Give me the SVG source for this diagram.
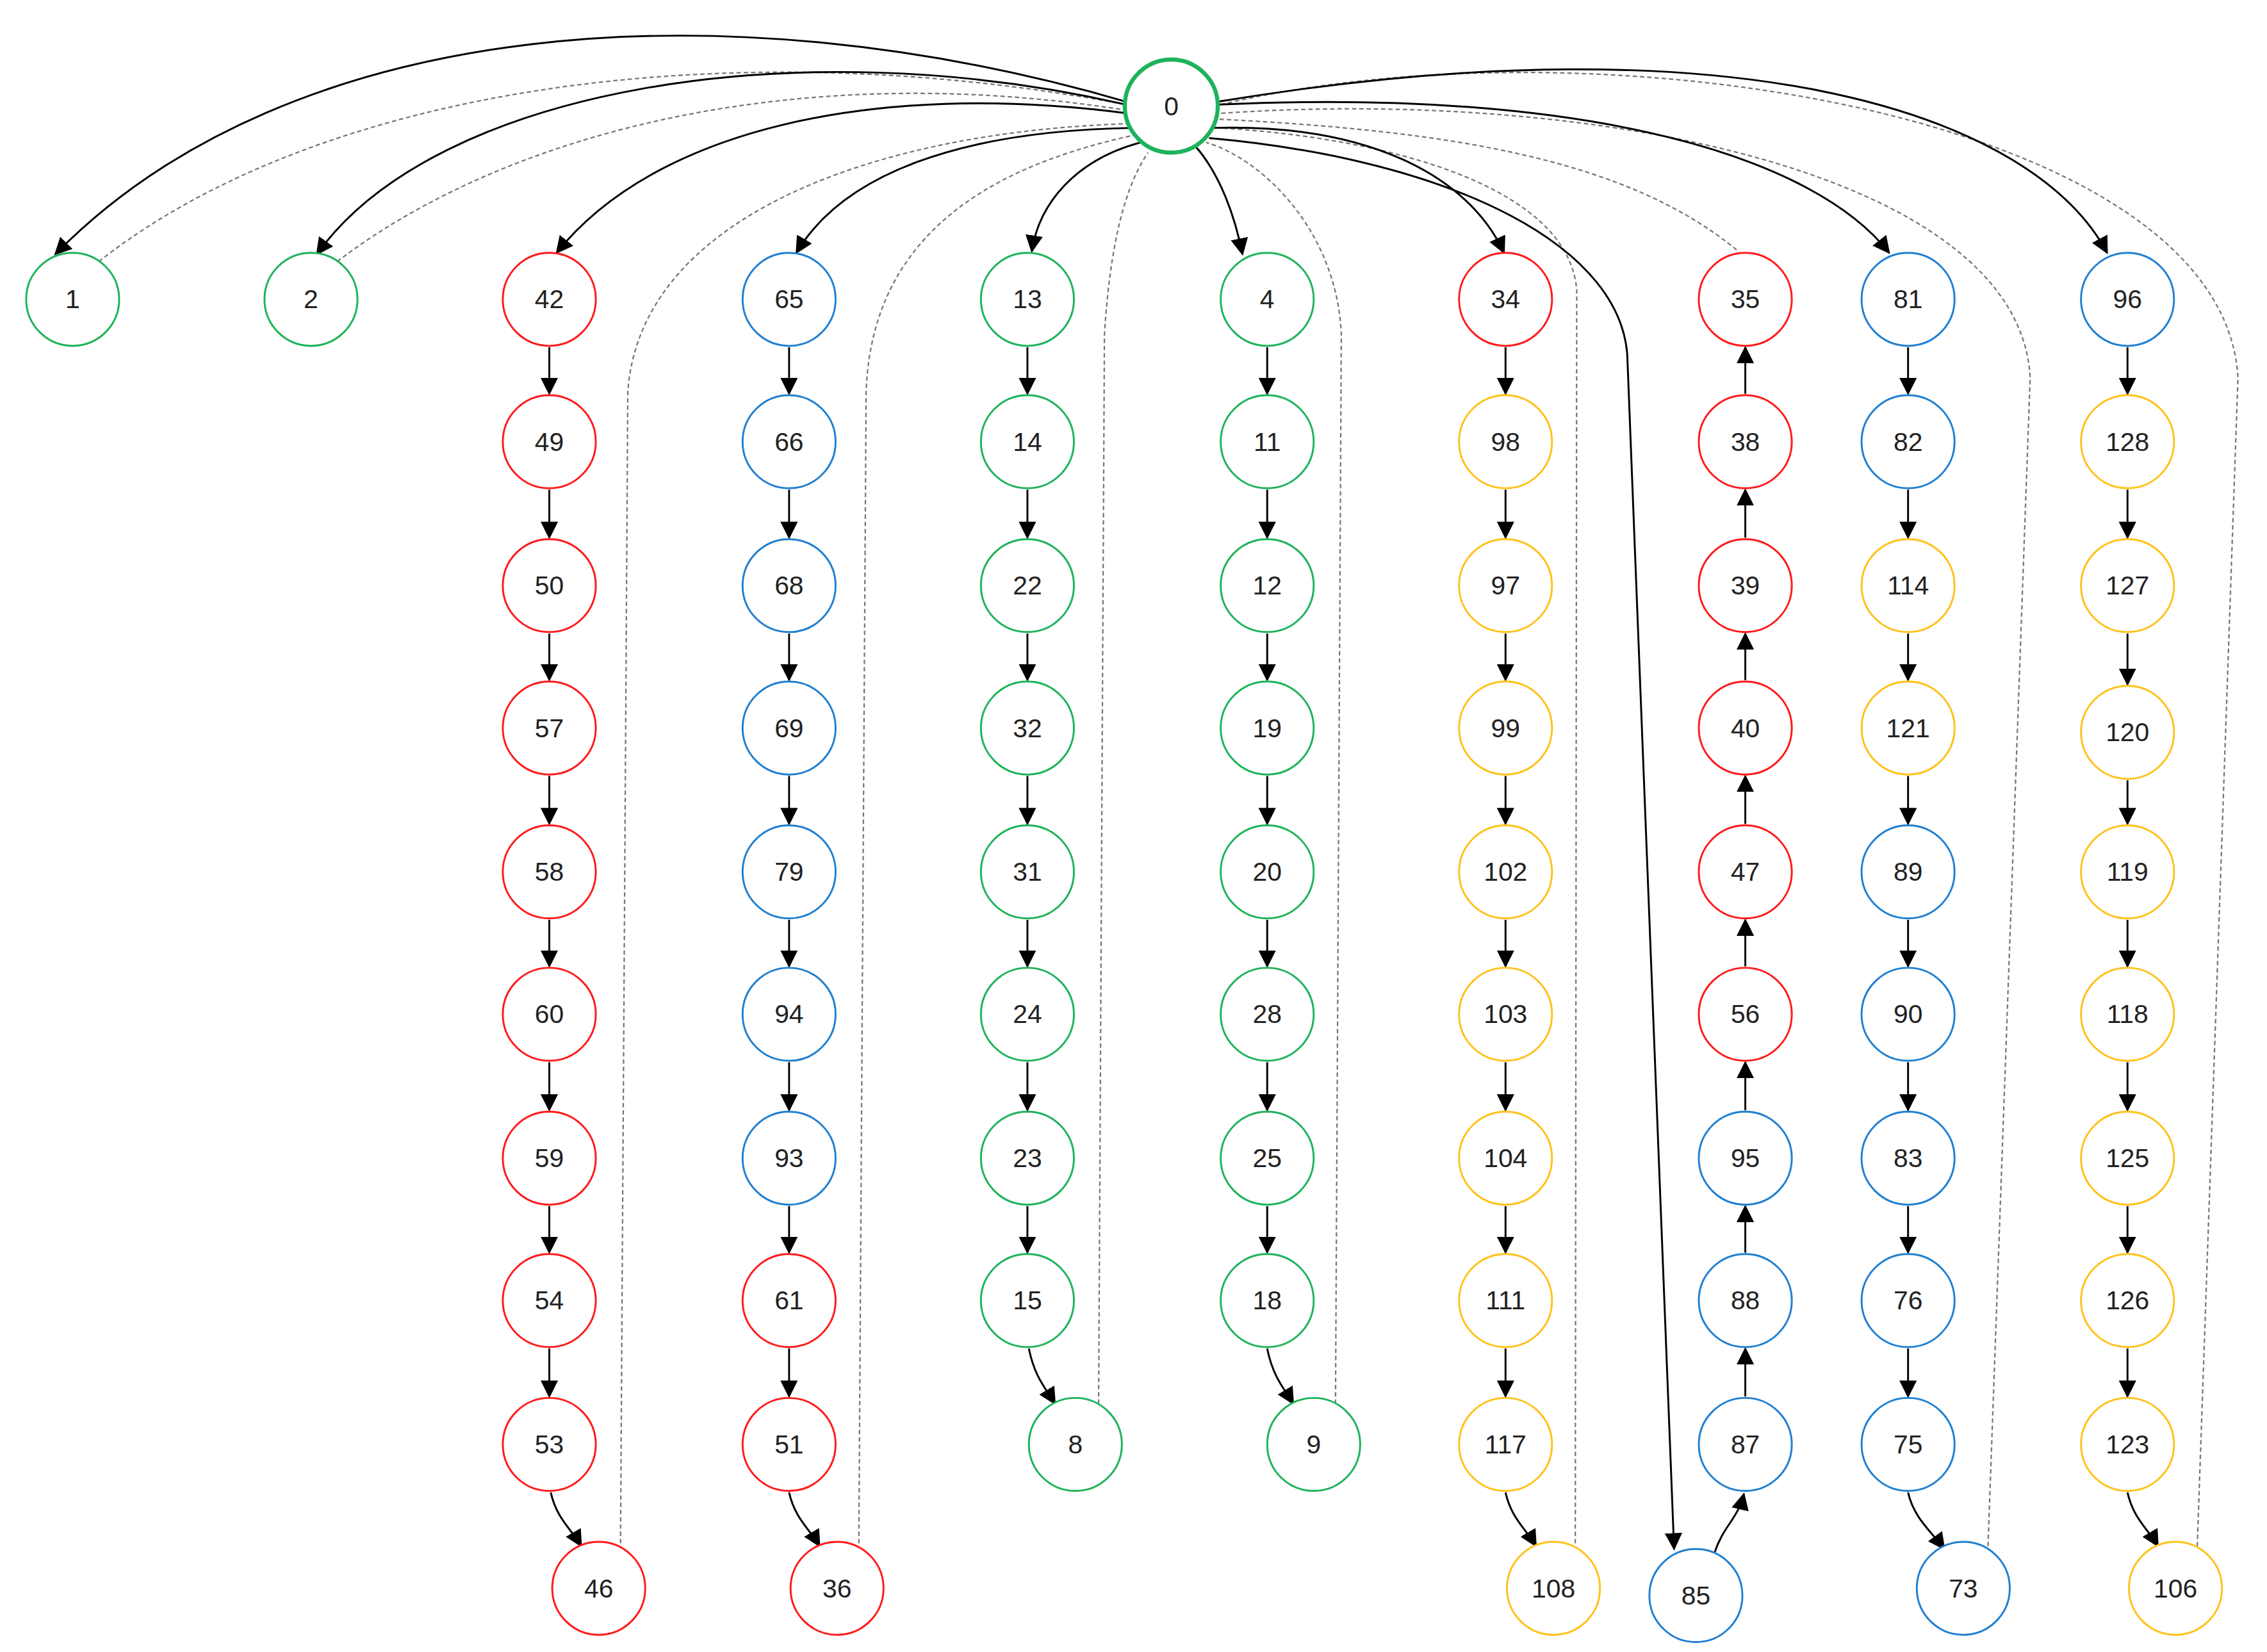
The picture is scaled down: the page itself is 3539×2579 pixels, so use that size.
<svg xmlns="http://www.w3.org/2000/svg" width="3539" height="2579" viewBox="0 0 3539 2579">
<style>
.n{fill:#fff;stroke-width:1.3}
.g{stroke:#1db35a}.r{stroke:#ff1a1a}.b{stroke:#1f7fd1}.y{stroke:#ffc21a}
.t{font-family:"Liberation Sans",Arial,sans-serif;font-size:18px;text-anchor:middle;dominant-baseline:central;fill:#222}
.s{fill:none;stroke:#000;stroke-width:1.3;marker-end:url(#a)}
.d{fill:none;stroke:#777;stroke-width:1;stroke-dasharray:3 2}
</style>
<defs><marker id="a" markerUnits="userSpaceOnUse" markerWidth="12" markerHeight="12" refX="11" refY="6" orient="auto"><path d="M0,0 L12,6 L0,12 Z" fill="#000"/></marker></defs>
<rect width="3539" height="2579" fill="#fff"/>
<g transform="scale(2.2686)">
<g id="edges">
<path class="d" d="M68 180 C220 60,500 20,775 72"/>
<path class="d" d="M232 180 C350 90,550 40,776 76"/>
<path class="d" d="M427 1062 L432 270 C440 150,600 90,780 85"/>
<path class="d" d="M591 1062 L596 270 C600 150,700 110,785 92"/>
<path class="d" d="M756 966 L760 230 C765 150,780 120,790 105"/>
<path class="d" d="M919 966 L923 230 C920 160,870 110,830 98"/>
<path class="d" d="M1084 1062 L1085 200 C1080 130,960 95,838 88"/>
<path class="d" d="M1195 172 C1120 110,1000 90,838 82"/>
<path class="d" d="M1368 1064 L1397 260 C1390 120,1100 60,840 78"/>
<path class="d" d="M1512 1064 L1540 260 C1530 80,1100 10,840 72"/>
<path class="s" d="M775 70 C500 -10,200 10,38 175"/>
<path class="s" d="M775 72 C550 20,300 60,218 175"/>
<path class="s" d="M776 78 C600 55,450 90,383 174"/>
<path class="s" d="M780 88 C660 90,580 120,548 174"/>
<path class="s" d="M785 98 C740 110,715 140,710 173"/>
<path class="s" d="M822 100 C840 120,850 150,855 175"/>
<path class="s" d="M835 88 C940 85,1010 120,1035 174"/>
<path class="s" d="M832 95 C1000 110,1120 170,1120 250 L1152 1066"/>
<path class="s" d="M838 72 C1100 60,1250 110,1300 174"/>
<path class="s" d="M838 70 C1200 10,1400 80,1450 174"/>
<path class="s" d="M379 1027 C383 1045,393 1052,400 1064"/>
<path class="s" d="M543 1027 C547 1045,557 1052,564 1064"/>
<path class="s" d="M708 928 C712 948,720 956,726 966"/>
<path class="s" d="M872 928 C876 948,884 956,890 966"/>
<path class="s" d="M1036 1027 C1040 1045,1050 1052,1057 1064"/>
<path class="s" d="M1313 1027 C1317 1045,1330 1055,1338 1066"/>
<path class="s" d="M1464 1027 C1468 1045,1478 1052,1485 1064"/>
<path class="s" d="M1180 1068 C1186 1050,1196 1045,1200 1028"/>
<path class="s" d="M378 239V271"/><path class="s" d="M378 337V370"/><path class="s" d="M378 436V468"/><path class="s" d="M378 534V567"/><path class="s" d="M378 633V665"/><path class="s" d="M378 731V764"/><path class="s" d="M378 830V862"/><path class="s" d="M378 928V961"/>
<path class="s" d="M543 239V271"/><path class="s" d="M543 337V370"/><path class="s" d="M543 436V468"/><path class="s" d="M543 534V567"/><path class="s" d="M543 633V665"/><path class="s" d="M543 731V764"/><path class="s" d="M543 830V862"/><path class="s" d="M543 928V961"/>
<path class="s" d="M707 239V271"/><path class="s" d="M707 337V370"/><path class="s" d="M707 436V468"/><path class="s" d="M707 534V567"/><path class="s" d="M707 633V665"/><path class="s" d="M707 731V764"/><path class="s" d="M707 830V862"/>
<path class="s" d="M872 239V271"/><path class="s" d="M872 337V370"/><path class="s" d="M872 436V468"/><path class="s" d="M872 534V567"/><path class="s" d="M872 633V665"/><path class="s" d="M872 731V764"/><path class="s" d="M872 830V862"/>
<path class="s" d="M1036 239V271"/><path class="s" d="M1036 337V370"/><path class="s" d="M1036 436V468"/><path class="s" d="M1036 534V567"/><path class="s" d="M1036 633V665"/><path class="s" d="M1036 731V764"/><path class="s" d="M1036 830V862"/><path class="s" d="M1036 928V961"/>
<path class="s" d="M1201 961V928"/><path class="s" d="M1201 862V830"/><path class="s" d="M1201 764V731"/><path class="s" d="M1201 665V633"/><path class="s" d="M1201 567V534"/><path class="s" d="M1201 468V436"/><path class="s" d="M1201 370V337"/><path class="s" d="M1201 271V239"/>
<path class="s" d="M1313 239V271"/><path class="s" d="M1313 337V370"/><path class="s" d="M1313 436V468"/><path class="s" d="M1313 534V567"/><path class="s" d="M1313 633V665"/><path class="s" d="M1313 731V764"/><path class="s" d="M1313 830V862"/><path class="s" d="M1313 928V961"/>
<path class="s" d="M1464 239V271"/><path class="s" d="M1464 337V370"/><path class="s" d="M1464 436V471"/><path class="s" d="M1464 537V567"/><path class="s" d="M1464 633V665"/><path class="s" d="M1464 731V764"/><path class="s" d="M1464 830V862"/><path class="s" d="M1464 928V961"/>
</g>
<g id="n0"><circle cx="806" cy="73" r="32" fill="#fff" stroke="#1db35a" stroke-width="2.8"/><text class="t" x="806" y="73">0</text></g>
<g id="n1"><circle class="n g" cx="50" cy="206" r="32"/><text class="t" x="50" y="206">1</text></g>
<g id="n2"><circle class="n g" cx="214" cy="206" r="32"/><text class="t" x="214" y="206">2</text></g>
<g id="n42"><circle class="n r" cx="378" cy="206" r="32"/><text class="t" x="378" y="206">42</text></g>
<g id="n49"><circle class="n r" cx="378" cy="304" r="32"/><text class="t" x="378" y="304">49</text></g>
<g id="n50"><circle class="n r" cx="378" cy="403" r="32"/><text class="t" x="378" y="403">50</text></g>
<g id="n57"><circle class="n r" cx="378" cy="501" r="32"/><text class="t" x="378" y="501">57</text></g>
<g id="n58"><circle class="n r" cx="378" cy="600" r="32"/><text class="t" x="378" y="600">58</text></g>
<g id="n60"><circle class="n r" cx="378" cy="698" r="32"/><text class="t" x="378" y="698">60</text></g>
<g id="n59"><circle class="n r" cx="378" cy="797" r="32"/><text class="t" x="378" y="797">59</text></g>
<g id="n54"><circle class="n r" cx="378" cy="895" r="32"/><text class="t" x="378" y="895">54</text></g>
<g id="n53"><circle class="n r" cx="378" cy="994" r="32"/><text class="t" x="378" y="994">53</text></g>
<g id="n46"><circle class="n r" cx="412" cy="1093" r="32"/><text class="t" x="412" y="1093">46</text></g>
<g id="n65"><circle class="n b" cx="543" cy="206" r="32"/><text class="t" x="543" y="206">65</text></g>
<g id="n66"><circle class="n b" cx="543" cy="304" r="32"/><text class="t" x="543" y="304">66</text></g>
<g id="n68"><circle class="n b" cx="543" cy="403" r="32"/><text class="t" x="543" y="403">68</text></g>
<g id="n69"><circle class="n b" cx="543" cy="501" r="32"/><text class="t" x="543" y="501">69</text></g>
<g id="n79"><circle class="n b" cx="543" cy="600" r="32"/><text class="t" x="543" y="600">79</text></g>
<g id="n94"><circle class="n b" cx="543" cy="698" r="32"/><text class="t" x="543" y="698">94</text></g>
<g id="n93"><circle class="n b" cx="543" cy="797" r="32"/><text class="t" x="543" y="797">93</text></g>
<g id="n61"><circle class="n r" cx="543" cy="895" r="32"/><text class="t" x="543" y="895">61</text></g>
<g id="n51"><circle class="n r" cx="543" cy="994" r="32"/><text class="t" x="543" y="994">51</text></g>
<g id="n36"><circle class="n r" cx="576" cy="1093" r="32"/><text class="t" x="576" y="1093">36</text></g>
<g id="n13"><circle class="n g" cx="707" cy="206" r="32"/><text class="t" x="707" y="206">13</text></g>
<g id="n14"><circle class="n g" cx="707" cy="304" r="32"/><text class="t" x="707" y="304">14</text></g>
<g id="n22"><circle class="n g" cx="707" cy="403" r="32"/><text class="t" x="707" y="403">22</text></g>
<g id="n32"><circle class="n g" cx="707" cy="501" r="32"/><text class="t" x="707" y="501">32</text></g>
<g id="n31"><circle class="n g" cx="707" cy="600" r="32"/><text class="t" x="707" y="600">31</text></g>
<g id="n24"><circle class="n g" cx="707" cy="698" r="32"/><text class="t" x="707" y="698">24</text></g>
<g id="n23"><circle class="n g" cx="707" cy="797" r="32"/><text class="t" x="707" y="797">23</text></g>
<g id="n15"><circle class="n g" cx="707" cy="895" r="32"/><text class="t" x="707" y="895">15</text></g>
<g id="n8"><circle class="n g" cx="740" cy="994" r="32"/><text class="t" x="740" y="994">8</text></g>
<g id="n4"><circle class="n g" cx="872" cy="206" r="32"/><text class="t" x="872" y="206">4</text></g>
<g id="n11"><circle class="n g" cx="872" cy="304" r="32"/><text class="t" x="872" y="304">11</text></g>
<g id="n12"><circle class="n g" cx="872" cy="403" r="32"/><text class="t" x="872" y="403">12</text></g>
<g id="n19"><circle class="n g" cx="872" cy="501" r="32"/><text class="t" x="872" y="501">19</text></g>
<g id="n20"><circle class="n g" cx="872" cy="600" r="32"/><text class="t" x="872" y="600">20</text></g>
<g id="n28"><circle class="n g" cx="872" cy="698" r="32"/><text class="t" x="872" y="698">28</text></g>
<g id="n25"><circle class="n g" cx="872" cy="797" r="32"/><text class="t" x="872" y="797">25</text></g>
<g id="n18"><circle class="n g" cx="872" cy="895" r="32"/><text class="t" x="872" y="895">18</text></g>
<g id="n9"><circle class="n g" cx="904" cy="994" r="32"/><text class="t" x="904" y="994">9</text></g>
<g id="n34"><circle class="n r" cx="1036" cy="206" r="32"/><text class="t" x="1036" y="206">34</text></g>
<g id="n98"><circle class="n y" cx="1036" cy="304" r="32"/><text class="t" x="1036" y="304">98</text></g>
<g id="n97"><circle class="n y" cx="1036" cy="403" r="32"/><text class="t" x="1036" y="403">97</text></g>
<g id="n99"><circle class="n y" cx="1036" cy="501" r="32"/><text class="t" x="1036" y="501">99</text></g>
<g id="n102"><circle class="n y" cx="1036" cy="600" r="32"/><text class="t" x="1036" y="600">102</text></g>
<g id="n103"><circle class="n y" cx="1036" cy="698" r="32"/><text class="t" x="1036" y="698">103</text></g>
<g id="n104"><circle class="n y" cx="1036" cy="797" r="32"/><text class="t" x="1036" y="797">104</text></g>
<g id="n111"><circle class="n y" cx="1036" cy="895" r="32"/><text class="t" x="1036" y="895">111</text></g>
<g id="n117"><circle class="n y" cx="1036" cy="994" r="32"/><text class="t" x="1036" y="994">117</text></g>
<g id="n108"><circle class="n y" cx="1069" cy="1093" r="32"/><text class="t" x="1069" y="1093">108</text></g>
<g id="n35"><circle class="n r" cx="1201" cy="206" r="32"/><text class="t" x="1201" y="206">35</text></g>
<g id="n38"><circle class="n r" cx="1201" cy="304" r="32"/><text class="t" x="1201" y="304">38</text></g>
<g id="n39"><circle class="n r" cx="1201" cy="403" r="32"/><text class="t" x="1201" y="403">39</text></g>
<g id="n40"><circle class="n r" cx="1201" cy="501" r="32"/><text class="t" x="1201" y="501">40</text></g>
<g id="n47"><circle class="n r" cx="1201" cy="600" r="32"/><text class="t" x="1201" y="600">47</text></g>
<g id="n56"><circle class="n r" cx="1201" cy="698" r="32"/><text class="t" x="1201" y="698">56</text></g>
<g id="n95"><circle class="n b" cx="1201" cy="797" r="32"/><text class="t" x="1201" y="797">95</text></g>
<g id="n88"><circle class="n b" cx="1201" cy="895" r="32"/><text class="t" x="1201" y="895">88</text></g>
<g id="n87"><circle class="n b" cx="1201" cy="994" r="32"/><text class="t" x="1201" y="994">87</text></g>
<g id="n85"><circle class="n b" cx="1167" cy="1098" r="32"/><text class="t" x="1167" y="1098">85</text></g>
<g id="n81"><circle class="n b" cx="1313" cy="206" r="32"/><text class="t" x="1313" y="206">81</text></g>
<g id="n82"><circle class="n b" cx="1313" cy="304" r="32"/><text class="t" x="1313" y="304">82</text></g>
<g id="n114"><circle class="n y" cx="1313" cy="403" r="32"/><text class="t" x="1313" y="403">114</text></g>
<g id="n121"><circle class="n y" cx="1313" cy="501" r="32"/><text class="t" x="1313" y="501">121</text></g>
<g id="n89"><circle class="n b" cx="1313" cy="600" r="32"/><text class="t" x="1313" y="600">89</text></g>
<g id="n90"><circle class="n b" cx="1313" cy="698" r="32"/><text class="t" x="1313" y="698">90</text></g>
<g id="n83"><circle class="n b" cx="1313" cy="797" r="32"/><text class="t" x="1313" y="797">83</text></g>
<g id="n76"><circle class="n b" cx="1313" cy="895" r="32"/><text class="t" x="1313" y="895">76</text></g>
<g id="n75"><circle class="n b" cx="1313" cy="994" r="32"/><text class="t" x="1313" y="994">75</text></g>
<g id="n73"><circle class="n b" cx="1351" cy="1093" r="32"/><text class="t" x="1351" y="1093">73</text></g>
<g id="n96"><circle class="n b" cx="1464" cy="206" r="32"/><text class="t" x="1464" y="206">96</text></g>
<g id="n128"><circle class="n y" cx="1464" cy="304" r="32"/><text class="t" x="1464" y="304">128</text></g>
<g id="n127"><circle class="n y" cx="1464" cy="403" r="32"/><text class="t" x="1464" y="403">127</text></g>
<g id="n120"><circle class="n y" cx="1464" cy="504" r="32"/><text class="t" x="1464" y="504">120</text></g>
<g id="n119"><circle class="n y" cx="1464" cy="600" r="32"/><text class="t" x="1464" y="600">119</text></g>
<g id="n118"><circle class="n y" cx="1464" cy="698" r="32"/><text class="t" x="1464" y="698">118</text></g>
<g id="n125"><circle class="n y" cx="1464" cy="797" r="32"/><text class="t" x="1464" y="797">125</text></g>
<g id="n126"><circle class="n y" cx="1464" cy="895" r="32"/><text class="t" x="1464" y="895">126</text></g>
<g id="n123"><circle class="n y" cx="1464" cy="994" r="32"/><text class="t" x="1464" y="994">123</text></g>
<g id="n106"><circle class="n y" cx="1497" cy="1093" r="32"/><text class="t" x="1497" y="1093">106</text></g>
</g>
</svg>
